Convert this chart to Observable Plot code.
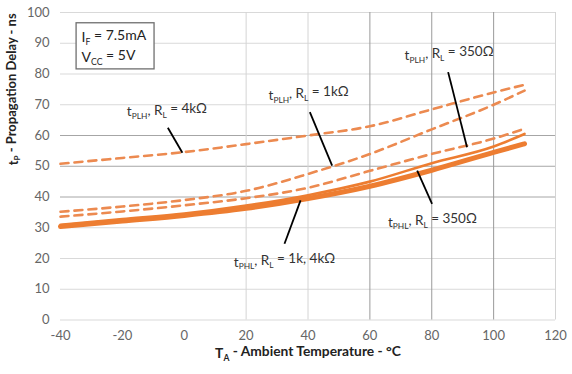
<!DOCTYPE html>
<html><head><meta charset="utf-8">
<script src="https://cdn.jsdelivr.net/npm/d3@7"></script>
<script src="https://cdn.jsdelivr.net/npm/@observablehq/plot@0.6"></script>
<style>body{margin:0;background:#fff} svg{display:block}</style>
</head><body><div id="chart"></div>
<script>
// ---- data ----
const temps    = [-40, -20, 0, 20, 40, 60, 80, 100, 110];
const tplh4k   = [50.8, 52.7, 54.6, 57.2, 60.0, 63.0, 68.5, 74.0, 76.5];
const tplh1k   = [35.2, 36.9, 39.0, 42.0, 47.5, 54.0, 62.0, 70.0, 74.6];
const tplh350  = [33.6, 35.3, 37.3, 39.6, 43.0, 48.5, 54.0, 59.0, 62.2];
const tphl350  = [31.0, 32.8, 34.6, 37.2, 40.6, 45.0, 51.0, 56.4, 60.5];
const tphl1k4k = [30.4, 32.2, 34.0, 36.3, 39.5, 43.5, 48.7, 54.5, 57.3];

const xTicks = [-40, -20, 0, 20, 40, 60, 80, 100, 120];
const yTicks = [0, 10, 20, 30, 40, 50, 60, 70, 80, 90, 100];
const xGridLight = [20, 40, 120];
const xGridDark = [60, 80, 100];
const yGridDark = [40, 50, 60];
const yGridLight = [0, 10, 20, 30, 70, 80, 90, 100];

const xTitle = "T_{A} - Ambient Temperature - °C";
const yTitle = "t_{P} - Propagation Delay - ns";

// annotations (data units)
const labelText = ["t_{PLH}, R_{L} = 4kΩ", "t_{PLH}, R_{L} = 1kΩ", "t_{PLH}, R_{L} = 350Ω", "t_{PHL}, R_{L} = 350Ω", "t_{PHL}, R_{L} = 1k, 4kΩ"];
const labelT   = [-5.6, 40.2, 85.6, 80.2, 32.4];
const labelV   = [67.6, 73.0, 86.0, 31.8, 18.8];
const leaderT1 = [-5.3, 40.6, 85.3, 80.1, 32.4];
const leaderV1 = [62.5, 67.6, 80.6, 37.8, 24.8];
const leaderT2 = [-0.6, 47.8, 91.4, 75.3, 37.6];
const leaderV2 = [54.4, 50.2, 56.2, 48.6, 38.9];

const noteLines = ["I_{F} = 7.5mA", "V_{CC} = 5V"];
const noteT = [-33.2, -33.2];
const noteV = [91.9, 85.4];
const noteBoxT = [-34.8, -9.6];
const noteBoxV = [81.5, 96.5];

// ---- build tables ----
const rows = (vals) => temps.map((t, i) => ({t, v: vals[i]}));
const labels = labelText.map((s, i) => ({s, t: labelT[i], v: labelV[i]}));
const leaders = leaderT1.map((t1, i) => ({t1, v1: leaderV1[i], t2: leaderT2[i], v2: leaderV2[i]}));
const notes = noteLines.map((s, i) => ({s, t: noteT[i], v: noteV[i]}));

const orange = "#ED7D31";
const dashed = {x: "t", y: "v", stroke: "#EC8A50", strokeWidth: 2.6, strokeDasharray: "8,6", curve: "monotone-x"};

const chart = Plot.plot({
  width: 572, height: 374,
  marginLeft: 60, marginRight: 17, marginTop: 12, marginBottom: 54.5,
  x: {domain: [-40, 120], ticks: xTicks, tickSize: 0, tickPadding: 11, label: null, tickFormat: d => String(d)},
  y: {domain: [0, 100], ticks: yTicks, tickSize: 0, tickPadding: 11, label: null, tickFormat: d => String(d)},
  style: {fontFamily: "Lato, 'Open Sans', sans-serif", fontSize: "13px", color: "#666", background: "#fff"},
  marks: [
    Plot.ruleY(yGridLight, {stroke: "#d9d9d9", strokeWidth: 1}),
    Plot.ruleY(yGridDark, {stroke: "#a6a6a6", strokeWidth: 1}),
    Plot.ruleX(xGridLight, {stroke: "#d4d4d4", strokeWidth: 1}),
    Plot.ruleX(xGridDark, {stroke: "#9a9a9a", strokeWidth: 1}),
    Plot.rect([0], {x1: () => noteBoxT[0], x2: () => noteBoxT[1], y1: () => noteBoxV[0], y2: () => noteBoxV[1], fill: "#fff", stroke: "#6f6f6f", strokeWidth: 1.3}),
    Plot.line(rows(tplh4k), dashed),
    Plot.line(rows(tplh1k), dashed),
    Plot.line(rows(tplh350), dashed),
    Plot.line(rows(tphl1k4k), {x: "t", y: "v", stroke: orange, strokeWidth: 5, curve: "monotone-x"}),
    Plot.line(rows(tphl350), {x: "t", y: "v", stroke: orange, strokeWidth: 2.6, curve: "monotone-x"}),
    Plot.link(leaders, {x1: "t1", y1: "v1", x2: "t2", y2: "v2", stroke: "#000", strokeWidth: 1.8}),
    Plot.text(labels, {x: "t", y: "v", text: "s", fill: "#333", fontSize: 13.5, textAnchor: "middle"}),
    Plot.text(notes, {x: "t", y: "v", text: "s", fill: "#222", fontSize: 14, textAnchor: "start"}),
    Plot.text([yTitle], {text: d => d, frameAnchor: "left", rotate: -90, dx: -47, dy: -1, fill: "#222", fontSize: 13, fontWeight: "bold"}),
    Plot.text([xTitle], {text: d => d, frameAnchor: "bottom", dy: 38, fill: "#222", fontSize: 13.8, fontWeight: "bold"})
  ]
});

// render "_{...}" as subscripts
chart.querySelectorAll("text").forEach(el => {
  const s = el.textContent;
  if (!s.includes("_{")) return;
  while (el.firstChild) el.removeChild(el.firstChild);
  const parts = s.split(/(_\{[^}]*\})/);
  let sub = false;
  parts.forEach(p => {
    if (!p) return;
    const ts = document.createElementNS("http://www.w3.org/2000/svg", "tspan");
    if (p.startsWith("_{")) {
      ts.textContent = p.slice(2, -1);
      ts.setAttribute("font-size", "0.62em");
      ts.setAttribute("dy", "0.35em");
      sub = true;
    } else {
      ts.textContent = p;
      if (sub) { ts.setAttribute("dy", "-0.35em"); sub = false; }
    }
    el.appendChild(ts);
  });
});

document.getElementById("chart").appendChild(chart);
</script>
</body></html>
